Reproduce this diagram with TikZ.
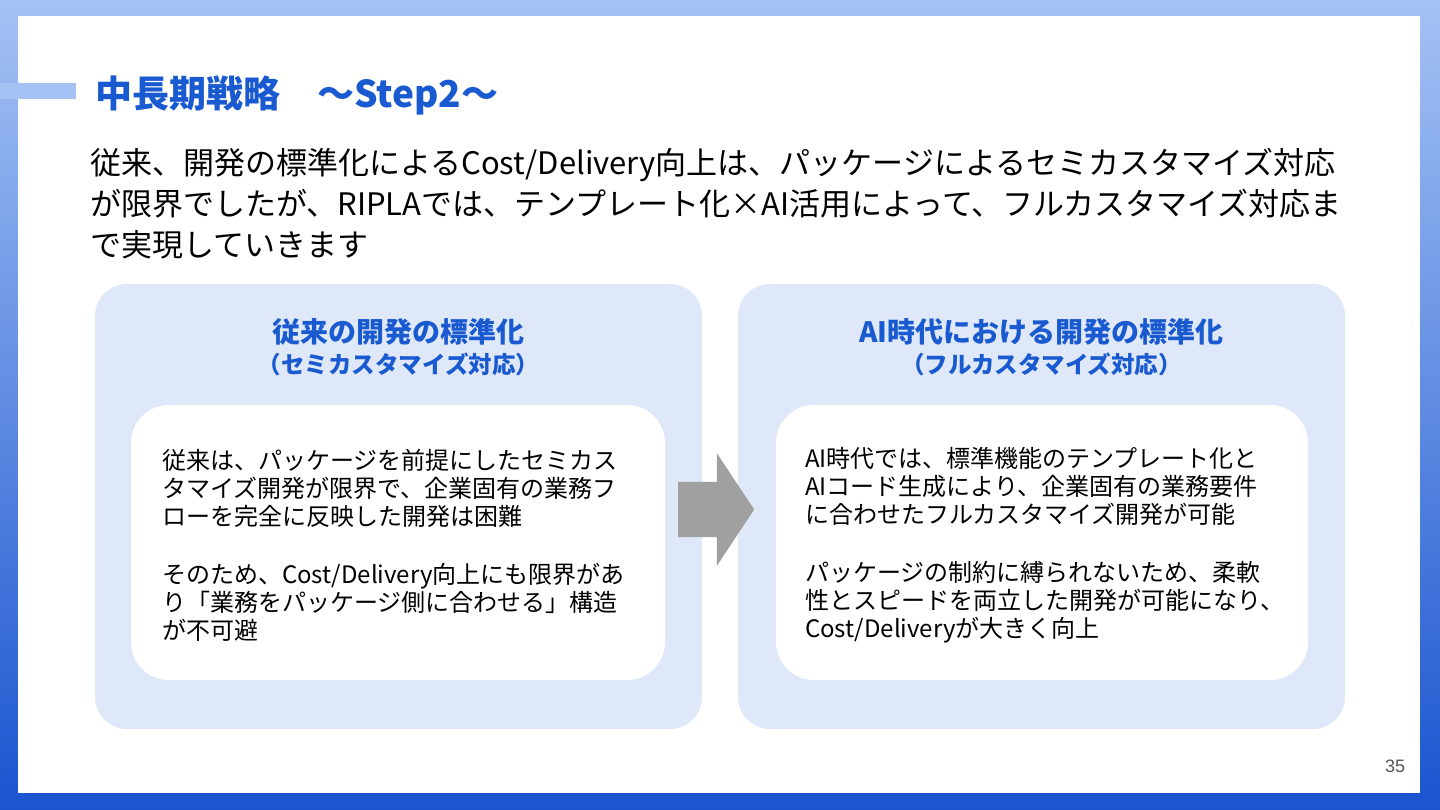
\documentclass[tikz,border=0pt]{standalone}
\usepackage{fontspec}
\setmainfont{Noto Sans CJK JP}
\newfontfamily\numfont{Liberation Sans}
\usetikzlibrary{positioning,shapes.arrows}

\definecolor{bgtop}{HTML}{A4C2F4}
\definecolor{bgbot}{HTML}{1A54CF}
\definecolor{titleblue}{HTML}{1A5AD0}
\definecolor{panelblue}{HTML}{DFE8F8}
\definecolor{arrowgray}{HTML}{A0A0A0}
\definecolor{pagegray}{HTML}{555555}

\tikzset{
  panel/.style={rectangle, rounded corners=32pt, fill=panelblue,
    minimum width=607pt, minimum height=445pt, inner sep=0pt},
  card/.style={rectangle, rounded corners=38pt, fill=white,
    minimum height=275pt, inner sep=0pt},
  heading/.style={font=\bfseries\fontsize{28}{32}\selectfont, text=titleblue, inner sep=0pt},
  subhead/.style={font=\bfseries\fontsize{23.5}{26}\selectfont, text=titleblue, inner sep=0pt},
  cardtext/.style={font=\fontsize{24}{28}\selectfont, align=left, inner sep=0pt},
}

\begin{document}
\begin{tikzpicture}[x=1pt,y=-1pt]
\useasboundingbox (0,0) rectangle (1440,810);
% frame
\shade[top color=bgtop, bottom color=bgbot] (0,0) rectangle (1440,810);
\fill[white] (18,16) rectangle (1420,793);
\fill[bgtop] (0,83) rectangle (76,99);

% title and lead
\node[anchor=base west, font=\bfseries\fontsize{37}{42}\selectfont, text=titleblue, inner sep=0pt]
  (title) at (95,108) {中長期戦略　～Step2～};
\node[anchor=north west, align=left, font=\fontsize{31}{41}\selectfont, inner sep=0pt]
  (lead) at (90,148) {従来、開発の標準化によるCost/Delivery向上は、パッケージによるセミカスタマイズ対応\\
  が限界でしたが、RIPLAでは、テンプレート化×AI活用によって、フルカスタマイズ対応ま\\
  で実現していきます};

% panels
\node[panel] (panelL) at (398.5,506.5) {};
\node[panel] (panelR) at (1041.5,506.5) {};
\node[heading] (headL) at (398.5,332) {従来の開発の標準化};
\node[subhead, below=7pt of headL] (subL) {（セミカスタマイズ対応）};
\node[heading] (headR) at (1041.5,332) {AI時代における開発の標準化};
\node[subhead, below=7pt of headR] (subR) {（フルカスタマイズ対応）};

\node[card, minimum width=534pt] (cardL) at (398,542.5) {};
\node[card, minimum width=532pt] (cardR) at (1042,542.5) {};
\node[cardtext, right=31pt of cardL.west, yshift=-3pt] (textL) {従来は、パッケージを前提にしたセミカス\\
  タマイズ開発が限界で、企業固有の業務フ\\
  ローを完全に反映した開発は困難\\[30pt]
  そのため、Cost/Delivery向上にも限界があ\\
  り「業務をパッケージ側に合わせる」構造\\
  が不可避};
\node[cardtext, right=29pt of cardR.west, yshift=-3pt] (textR) {AI時代では、標準機能のテンプレート化と\\
  AIコード生成により、企業固有の業務要件\\
  に合わせたフルカスタマイズ開発が可能\\[30pt]
  パッケージの制約に縛られないため、柔軟\\
  性とスピードを両立した開発が可能になり、\\
  Cost/Deliveryが大きく向上};

\node[single arrow, fill=arrowgray, inner xsep=0pt, inner ysep=27.5pt,
  single arrow head extend=28.5pt, single arrow tip angle=113, minimum height=76pt]
  (arrow) at (707,509.5) {};

\node[font=\numfont\fontsize{18}{20}\selectfont, text=pagegray, inner sep=0pt] (page) at (1395,766) {35};
\end{tikzpicture}
\end{document}
